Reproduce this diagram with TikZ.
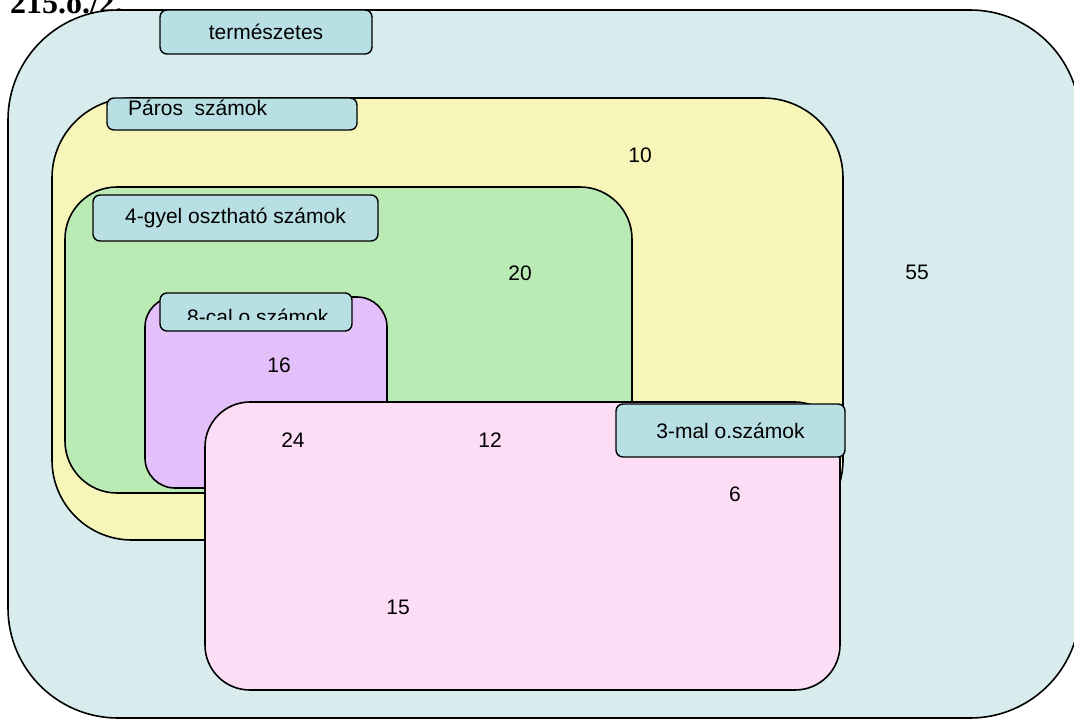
\documentclass[tikz,border=0pt]{standalone}
\usepackage{fontspec}
\setmainfont{Liberation Sans}
\newfontfamily\titlefont{Liberation Serif}
\usetikzlibrary{positioning}

\definecolor{setblue}{RGB}{216,236,238}
\definecolor{tagblue}{RGB}{184,223,227}
\definecolor{setyellow}{RGB}{247,246,184}
\definecolor{setgreen}{RGB}{186,235,181}
\definecolor{setpurple}{RGB}{228,192,250}
\definecolor{setpink}{RGB}{253,220,246}

\begin{document}
\begin{tikzpicture}[
    x=1pt, y=-1pt,
    set/.style={draw=black, line width=1.6pt, inner sep=0pt},
    tag/.style={draw=black, line width=1.4pt, fill=tagblue, rounded corners=7pt,
        inner sep=0pt, font=\fontsize{21}{25}\selectfont},
    num/.style={font=\fontsize{21}{25}\selectfont, inner sep=0pt},
    title/.style={font=\titlefont\bfseries\fontsize{32}{36}\selectfont, inner sep=0pt}
]
\clip (0,0) rectangle (1074,720);

% Title (cut at the top edge)
\node[title, anchor=base west] (title) at (10,13) {215.o./2.};

% Natural numbers
\node[set, fill=setblue, rounded corners=110pt, minimum width=1072pt, minimum height=708pt] (nat) at (544,364) {};
\node[tag, minimum width=212pt, minimum height=44pt] (natlbl) at (266,32) {természetes};

% Even numbers
\node[set, fill=setyellow, rounded corners=80pt, minimum width=791pt, minimum height=442pt] (even) at (447.5,319) {};
\node[tag, minimum width=250pt, minimum height=32pt] (evenlbl) at (232,114) {};
\node[num, anchor=base west] (eventxt) at (128,115) {Páros~~számok};

% Divisible by 4
\node[set, fill=setgreen, rounded corners=52pt, minimum width=567pt, minimum height=306pt] (four) at (348.5,340) {};
\node[tag, minimum width=285pt, minimum height=46pt] (fourlbl) at (235.5,218) {4-gyel osztható számok};

% Divisible by 8
\node[set, fill=setpurple, rounded corners=30pt, minimum width=242pt, minimum height=191pt] (eight) at (266,392.5) {};
\node[tag, minimum width=192pt, minimum height=38pt] (eightlbl) at (256,312) {};
\begin{scope}
    \clip (160,293) rectangle (352,319);
    \node[num, anchor=base west] (eighttxt) at (187,324) {8-cal o.számok};
\end{scope}

% Divisible by 3
\node[set, fill=setpink, rounded corners=45pt, minimum width=635pt, minimum height=288pt] (three) at (522.5,546) {};
\node[tag, minimum width=229pt, minimum height=53pt] (threelbl) at (730.5,430.5) {3-mal o.számok};

% Elements
\node[num] (n10) at (640,155) {10};
\node[num] (n20) at (520,273) {20};
\node[num] (n55) at (917,272) {55};
\node[num] (n16) at (279,365) {16};
\node[num] (n24) at (293,440) {24};
\node[num] (n12) at (490,440) {12};
\node[num] (n6) at (735,494) {6};
\node[num] (n15) at (398,607) {15};

\end{tikzpicture}
\end{document}
